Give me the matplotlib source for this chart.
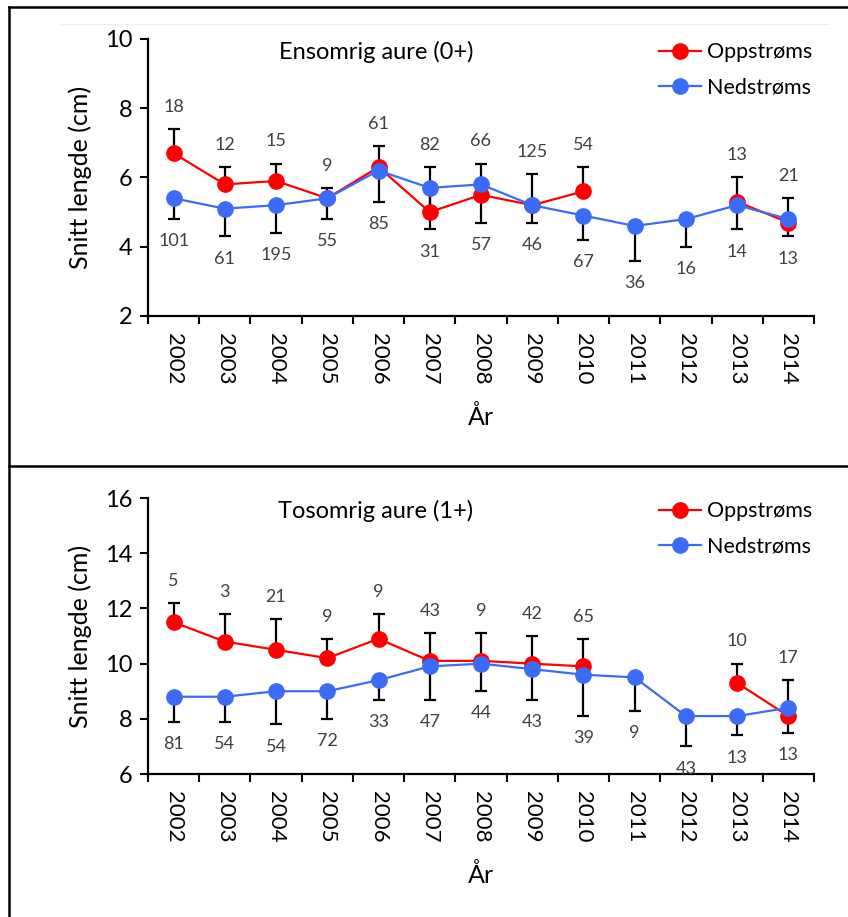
import matplotlib.pyplot as plt
import numpy as np
from matplotlib.lines import Line2D

plt.rcParams['font.family'] = ['Lato', 'DejaVu Sans']

years = [str(y) for y in range(2002, 2015)]
nan = np.nan

# Ensomrig aure (0+)
opp0 = [6.7, 5.8, 5.9, 5.4, 6.3, 5.0, 5.5, 5.2, 5.6, nan, nan, 5.3, 4.7]
opp0_err = [0.7, 0.5, 0.5, 0.3, 0.6, 1.3, 0.9, 0.9, 0.7, nan, nan, 0.7, 0.7]
ned0 = [5.4, 5.1, 5.2, 5.4, 6.2, 5.7, 5.8, 5.2, 4.9, 4.6, 4.8, 5.2, 4.8]
ned0_err = [0.6, 0.8, 0.8, 0.6, 0.9, 1.2, 1.1, 0.5, 0.7, 1.0, 0.8, 0.7, 0.5]
opp0_n = ['18', '12', '15', '9', '61', '82', '66', '125', '54', '', '', '13', '21']
ned0_n = ['101', '61', '195', '55', '85', '31', '57', '46', '67', '36', '16', '14', '13']

# Tosomrig aure (1+)
opp1 = [11.5, 10.8, 10.5, 10.2, 10.9, 10.1, 10.1, 10.0, 9.9, nan, nan, 9.3, 8.1]
opp1_err = [0.7, 1.0, 1.1, 0.7, 0.9, 1.0, 1.0, 1.0, 1.0, nan, nan, 0.7, 1.3]
ned1 = [8.8, 8.8, 9.0, 9.0, 9.4, 9.9, 10.0, 9.8, 9.6, 9.5, 8.1, 8.1, 8.4]
ned1_err = [0.9, 0.9, 1.2, 1.0, 0.7, 1.2, 1.0, 1.1, 1.5, 1.2, 1.1, 0.7, 0.9]
opp1_n = ['5', '3', '21', '9', '9', '43', '9', '42', '65', '', '', '10', '17']
ned1_n = ['81', '54', '54', '72', '33', '47', '44', '43', '39', '9', '43', '13', '13']

RED = '#FF0000'
BLUE = '#3A6CF7'
NUM = '#404040'


def panel(ax, title, opp, opp_err, ned, ned_err, opp_n, ned_n, ylim):
    x = np.arange(len(years))
    opp = np.array(opp)
    ned = np.array(ned)
    opp_err = np.array(opp_err)
    ned_err = np.array(ned_err)
    z = np.zeros(len(x))

    # one-sided error bars: up for Oppstrøms, down for Nedstrøms
    ax.errorbar(x, opp, yerr=[z, opp_err], fmt='none', ecolor='black',
                elinewidth=1.6, capsize=4, capthick=1.6, zorder=2)
    ax.errorbar(x, ned, yerr=[ned_err, z], fmt='none', ecolor='black',
                elinewidth=1.6, capsize=4, capthick=1.6, zorder=2)
    ax.plot(x, opp, '-o', color=RED, lw=1.6, ms=11, zorder=3, label='Oppstrøms')
    ax.plot(x, ned, '-o', color=BLUE, lw=1.6, ms=11, zorder=4, label='Nedstrøms')

    for i in range(len(x)):
        if opp_n[i]:
            ax.annotate(opp_n[i], (x[i], opp[i] + opp_err[i]), xytext=(0, 16),
                        textcoords='offset points', ha='center', va='center',
                        fontsize=13, color=NUM)
        if ned_n[i]:
            ax.annotate(ned_n[i], (x[i], ned[i] - ned_err[i]), xytext=(0, -16),
                        textcoords='offset points', ha='center', va='center',
                        fontsize=13, color=NUM)

    ax.set_xlim(-0.5, len(x) - 0.5)
    ax.set_ylim(*ylim)
    ax.set_yticks(np.arange(ylim[0], ylim[1] + 1, 2))
    ax.set_xticks(np.arange(-0.5, len(x)), labels=[])
    ax.set_xticks(x, labels=years, minor=True, rotation=270)
    ax.tick_params(axis='x', which='major', length=6, width=1.5, direction='out')
    ax.tick_params(axis='x', which='minor', length=0, pad=12, labelsize=16)
    ax.tick_params(axis='y', length=6, width=1.5, direction='out', pad=5, labelsize=17)
    for s in ['top', 'right']:
        ax.spines[s].set_visible(False)
    for s in ['left', 'bottom']:
        ax.spines[s].set_linewidth(1.6)

    ax.set_ylabel('Snitt lengde (cm)', fontsize=18)
    ax.yaxis.label.set_va('center')
    ax.yaxis.set_label_coords(-0.102, 0.5)
    ax.set_xlabel('År', fontsize=18)
    ax.xaxis.label.set_va('center')
    ax.xaxis.set_label_coords(0.5, -0.365)

    ax.text(0.342, 0.953, title, transform=ax.transAxes, ha='center', va='center',
            fontsize=17)
    ax.legend(loc='upper left', bbox_to_anchor=(0.755, 1.02), frameon=False,
              fontsize=15.5, handlelength=1.95, handletextpad=0.25, labelspacing=0.7,
              borderaxespad=0)


fig = plt.figure(figsize=(8.48, 9.17), dpi=100)
ax1 = fig.add_axes([0.1745, 0.6554, 0.7854, 0.3021])
ax2 = fig.add_axes([0.1745, 0.1559, 0.7854, 0.3010])

panel(ax1, 'Ensomrig aure (0+)', opp0, opp0_err, ned0, ned0_err, opp0_n, ned0_n, (2, 10))
panel(ax2, 'Tosomrig aure (1+)', opp1, opp1_err, ned1, ned1_err, opp1_n, ned1_n, (6, 16))

# outer frame lines between the two panels
W, H = 848, 917
fig.add_artist(Line2D([9 / W, 9 / W], [0, 1 - 7 / H], color='black', lw=1.8))
fig.add_artist(Line2D([9 / W, 1], [1 - 7 / H, 1 - 7 / H], color='black', lw=1.8))
fig.add_artist(Line2D([9 / W, 1], [1 - 466 / H, 1 - 466 / H], color='black', lw=1.8))
fig.add_artist(Line2D([60 / W, 828 / W], [1 - 24 / H, 1 - 24 / H], color='#EEEEEE', lw=0.8))

fig.savefig('out.png', dpi=100)
